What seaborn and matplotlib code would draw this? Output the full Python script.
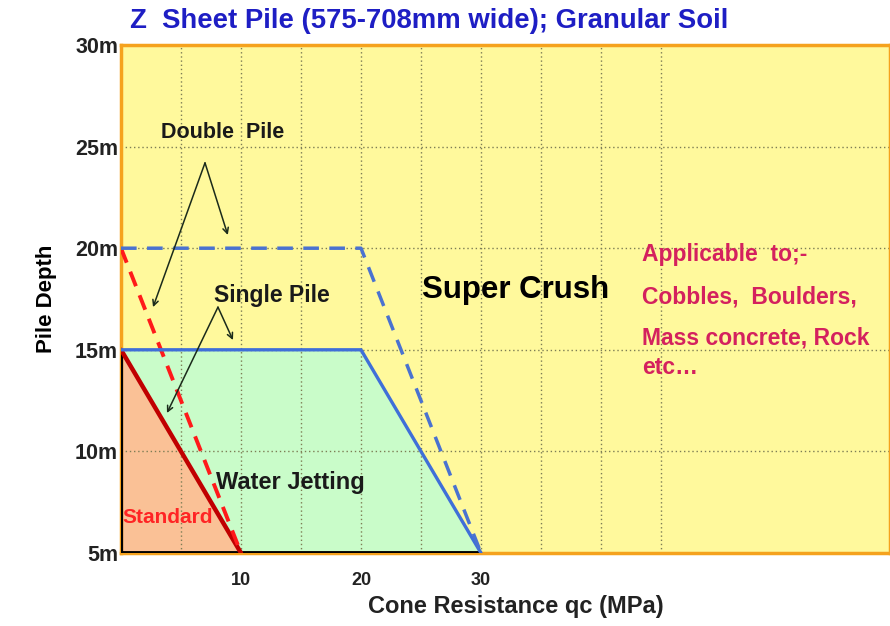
import matplotlib
matplotlib.use("Agg")
import matplotlib.pyplot as plt
import seaborn as sns
import pandas as pd

sns.set_style("white")
plt.rcParams['font.family'] = ['Liberation Sans', 'DejaVu Sans']

# zones (cone resistance MPa, depth m)
standard_q = [0, 0, 10]
standard_d = [15, 5, 5]
jetting_q = [0, 20, 30, 0]
jetting_d = [15, 15, 5, 5]

# boundary lines
single_std_q = [0, 10]
single_std_d = [15, 5]
double_std_q = [0, 10]
double_std_d = [20, 5]
single_jet_q = [0, 20, 30]
single_jet_d = [15, 15, 5]
double_jet_q = [0, 20, 30]
double_jet_d = [20, 20, 5]

y_ticks = [5, 10, 15, 20, 25, 30]
y_labels = ["5m", "10m", "15m", "20m", "25m", "30m"]
x_ticks = [10, 20, 30]
x_grid = [5, 10, 15, 20, 25, 30, 35, 40, 45]
y_grid = [10, 15, 20, 25]

fig = plt.figure(figsize=(8.9, 6.26), dpi=100)
ax = fig.add_axes([121 / 890, 73 / 626, 769 / 890, 508 / 626])
ax.set_xlim(0, 769 / 12)
ax.set_ylim(5, 30)
ax.set_facecolor("#FFF99C")

# grid
for gx in x_grid:
    ax.axvline(gx, color="#7d7d55", lw=1, ls=(0, (1, 2)), zorder=3)
for gy in y_grid:
    ax.axhline(gy, color="#7d7d55", lw=1, ls=(0, (1, 2)), zorder=3)

ax.fill(jetting_q, jetting_d, color="#C9FCC9", zorder=1)
ax.fill(standard_q, standard_d, color="#FAC196", zorder=2)

# zone outlines
ax.plot([0, 0], [5, 15], color="black", lw=3, zorder=4, solid_capstyle="butt")
ax.plot([0, 30], [5, 5], color="black", lw=3.5, zorder=4, solid_capstyle="butt")

lines = pd.DataFrame({
    "q": single_std_q + double_std_q + single_jet_q + double_jet_q,
    "d": single_std_d + double_std_d + single_jet_d + double_jet_d,
    "line": ["ss"] * 2 + ["ds"] * 2 + ["sj"] * 3 + ["dj"] * 3,
})
sns.lineplot(data=lines[lines.line == "ss"], x="q", y="d", sort=False,
             color="#C00000", lw=3.2, ax=ax, zorder=5)
sns.lineplot(data=lines[lines.line == "ds"], x="q", y="d", sort=False,
             color="#FF1A1A", lw=2.8, ls=(0, (4, 2.5)), ax=ax, zorder=5)
sns.lineplot(data=lines[lines.line == "sj"], x="q", y="d", sort=False,
             color="#3F6FD8", lw=2.4, ax=ax, zorder=5)
sns.lineplot(data=lines[lines.line == "dj"], x="q", y="d", sort=False,
             color="#4A72D0", lw=2.5, ls=(0, (4.5, 3)), ax=ax, zorder=5)

for s in ["top", "left", "right", "bottom"]:
    ax.spines[s].set_color("#F5A21E")
    ax.spines[s].set_linewidth(2.5)
    ax.spines[s].set_zorder(3)

ax.set_yticks(y_ticks)
ax.set_yticklabels(y_labels, fontsize=15.5, fontweight="bold", color="#222222")
ax.set_xticks(x_ticks)
ax.set_xticklabels([str(t) for t in x_ticks], fontsize=13, fontweight="bold", color="#222222")
ax.tick_params(axis="y", length=0, pad=2)
ax.tick_params(axis="x", length=0, pad=14)
ax.set_xlabel("Cone Resistance qc (MPa)", fontsize=17, fontweight="bold",
              color="#222222", labelpad=5)
ax.xaxis.set_label_coords(0.514, -0.083)
ax.set_ylabel("Pile Depth", fontsize=16, fontweight="bold", color="black", labelpad=13)

fig.text(130 / 890, 1 - 21 / 626, "Z  Sheet Pile (575-708mm wide); Granular Soil",
         fontsize=19.8, fontweight="bold", color="#1E1EC4", va="center", ha="left")

# annotations
arrow = dict(arrowstyle="->", color="#1B2B1B", lw=1.1, shrinkA=0, shrinkB=0)
ax.text(8.5, 25.7, "Double  Pile", fontsize=15.5, fontweight="bold", ha="center",
        va="center", color="#1a1a1a", zorder=6)
ax.annotate("", xy=(8.9, 20.65), xytext=(7.0, 24.2), arrowprops=arrow, zorder=6)
ax.annotate("", xy=(2.67, 17.1), xytext=(7.0, 24.2), arrowprops=arrow, zorder=6)
ax.text(12.6, 17.65, "Single Pile", fontsize=16.5, fontweight="bold", ha="center",
        va="center", color="#1a1a1a", zorder=6)
ax.annotate("", xy=(9.33, 15.48), xytext=(8.08, 17.1), arrowprops=arrow, zorder=6)
ax.annotate("", xy=(3.83, 11.89), xytext=(8.08, 17.1), arrowprops=arrow, zorder=6)

ax.text(25.1, 17.94, "Super Crush", fontsize=22.5, fontweight="bold", ha="left",
        va="center", color="black", zorder=6)
pink = "#D4215E"
for yy, s in [(19.71, "Applicable  to;-"), (17.6, "Cobbles,  Boulders,"),
              (15.58, "Mass concrete, Rock"), (14.15, "etc\u2026")]:
    ax.text(43.4, yy, s, fontsize=16.5, fontweight="bold", ha="left", va="center",
            color=pink, zorder=6)

ax.text(14.1, 8.49, "Water Jetting", fontsize=17, fontweight="bold", ha="center",
        va="center", color="#1a1a1a", zorder=6)
ax.text(0.1, 6.77, "Standard", fontsize=15, fontweight="bold", ha="left",
        va="center", color="#FF2424", zorder=6)

fig.savefig("out.png", dpi=100)
